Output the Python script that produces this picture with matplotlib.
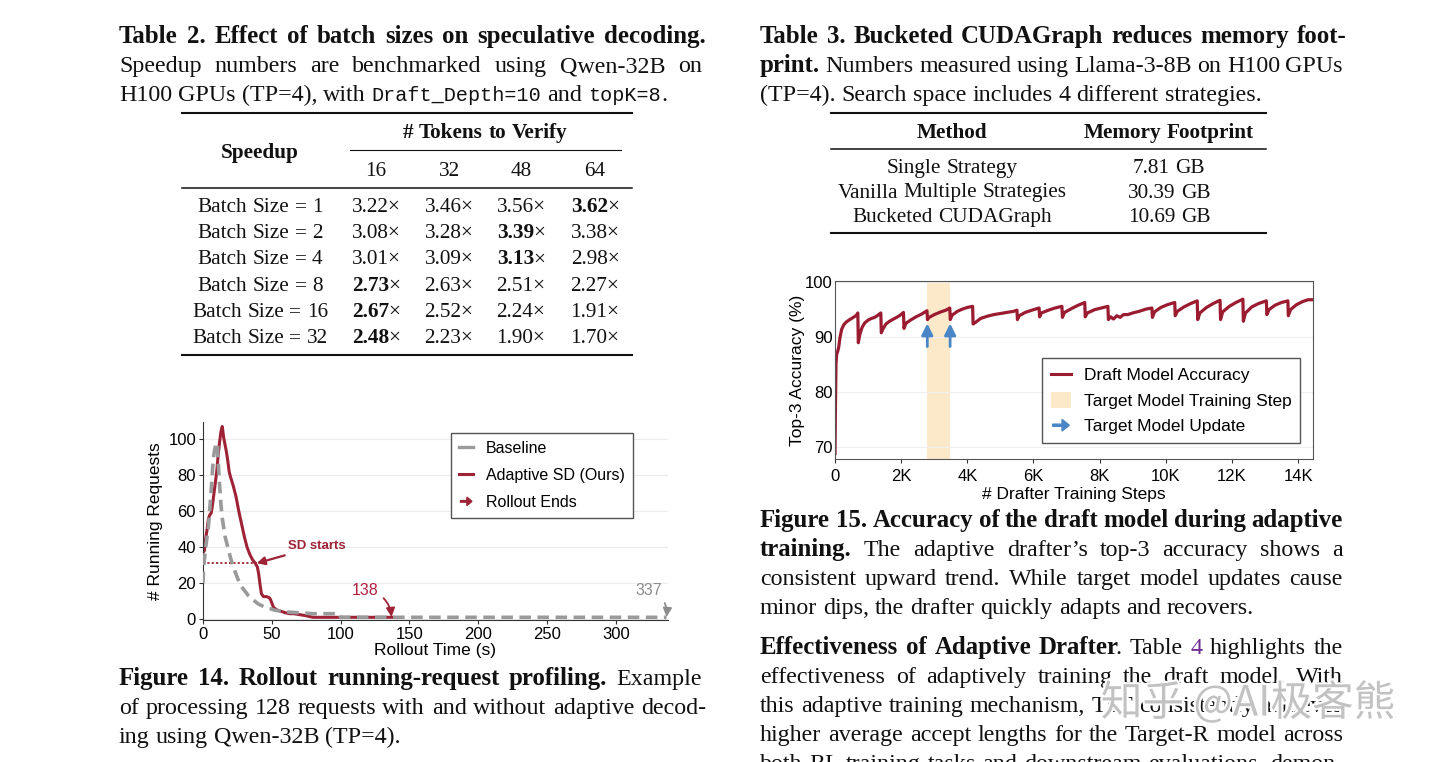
import matplotlib
matplotlib.use('Agg')
import matplotlib.pyplot as plt
import matplotlib.patheffects as pe
from matplotlib.patches import FancyArrow, Patch
from matplotlib.lines import Line2D
from matplotlib.legend_handler import HandlerPatch

W, H = 1440, 762

# ---- Table 2 data ----
batch_sizes = [1, 2, 4, 8, 16, 32]
tokens_to_verify = [16, 32, 48, 64]
speedups = [
    [3.22, 3.46, 3.56, 3.62],
    [3.08, 3.28, 3.39, 3.38],
    [3.01, 3.09, 3.13, 2.98],
    [2.73, 2.63, 2.51, 2.27],
    [2.67, 2.52, 2.24, 1.91],
    [2.48, 2.23, 1.90, 1.70],
]

# ---- Table 3 data ----
methods = ['Single Strategy', 'Vanilla Multiple Strategies', 'Bucketed CUDAGraph']
memory_gb = [7.81, 30.39, 10.69]

# ---- Figure 14 data (running requests over rollout time) ----
baseline_t = [0, 0.5, 1, 2, 3, 4, 5, 6, 7, 8, 9, 10, 10.5, 11, 12, 13, 14, 15, 16, 18, 20,
              22, 24, 26, 28, 30, 33, 36, 40, 44, 48, 52, 56, 60, 70, 80, 90, 99, 100, 337]
baseline_req = [20, 30, 33, 40, 46, 52, 62, 72, 84, 92, 96, 98, 97, 88, 75, 64, 56, 51, 46, 40, 34,
                29, 25, 21, 18, 16, 13, 11, 8.5, 7, 6, 5, 4.5, 4, 3.5, 3, 3, 3, 1, 1]
ours_t = [0, 1, 2, 3, 4, 5, 6, 7, 8, 9, 10, 11, 12, 13, 14, 15, 16, 17, 18, 19, 20, 22, 24, 26,
          28, 30, 32, 34, 36, 38, 39.5, 40.5, 41.5, 42.5, 44, 46, 48, 49, 50, 51, 52, 54, 56,
          58, 60, 63, 66, 70, 74, 77, 80, 100, 138]
ours_req = [37, 38, 45, 50, 56, 58, 59, 64, 70, 76, 82, 91, 98, 104, 107, 101, 97, 93, 88, 82, 79,
            74, 68, 60, 53, 46, 40, 36, 33, 31, 29, 25, 19, 14, 12.5, 12.5, 12, 11, 9, 7, 6, 5,
            4.5, 4, 3.5, 3, 3, 2.5, 2, 1.5, 1, 1, 1]
sd_start_t, sd_start_req = 39, 31
ours_end, baseline_end = 138, 337

# ---- Figure 15 data (drafter top-3 accuracy) ----
drafter_steps = [0, 15, 30, 50, 80, 110, 150, 200, 260, 330, 420, 500, 580, 650, 690,
                 705, 750, 820, 900, 1000, 1100, 1200, 1300, 1385,
                 1400, 1450, 1540, 1650, 1800, 1950, 2070,
                 2085, 2140, 2280, 2450, 2620, 2780,
                 2795, 2850, 3000, 3200, 3350, 3470,
                 3485, 3540, 3700, 3850, 4000, 4160,
                 4175, 4250, 4400, 4600, 4800, 5000, 5200, 5400, 5500,
                 5515, 5570, 5750, 5950, 6170,
                 6185, 6240, 6450, 6650, 6860,
                 6875, 6940, 7150, 7350, 7550,
                 7565, 7630, 7850, 8050, 8250,
                 8265, 8330, 8420, 8520, 8620, 8720, 8850, 9000, 9200, 9400, 9580,
                 9595, 9660, 9850, 10050, 10270,
                 10285, 10350, 10550, 10750, 10950,
                 10965, 11030, 11230, 11430, 11640,
                 11655, 11720, 11920, 12120, 12330,
                 12345, 12410, 12600, 12800, 13040,
                 13055, 13120, 13300, 13500, 13690,
                 13705, 13770, 13950, 14150, 14300, 14450]
drafter_acc = [68.8, 78, 85, 86.8, 87.3, 88.0, 89.8, 91.3, 92.1, 92.6, 93.0, 93.3, 93.6, 93.9, 94.3,
               88.9, 90.4, 91.7, 92.5, 93.0, 93.3, 93.5, 93.9, 94.3,
               90.7, 91.4, 92.3, 92.8, 93.3, 93.8, 94.4,
               91.5, 92.4, 93.0, 93.6, 94.1, 94.7,
               93.1, 93.5, 94.0, 94.5, 94.8, 95.2,
               93.1, 93.9, 94.6, 95.0, 95.3, 95.5,
               92.3, 92.6, 93.3, 93.7, 94.0, 94.2, 94.4, 94.6, 94.8,
               93.1, 93.8, 94.4, 94.8, 95.2,
               93.6, 94.3, 94.8, 95.2, 95.5,
               93.5, 94.4, 95.1, 95.7, 96.2,
               93.6, 94.3, 94.9, 95.2, 95.5,
               93.1, 93.6, 93.2, 93.8, 93.5, 94.0, 94.0, 94.3, 94.6, 95.0, 95.2,
               93.5, 94.5, 95.3, 95.8, 96.2,
               93.8, 94.6, 95.4, 96.0, 96.5,
               93.1, 94.3, 95.3, 96.0, 96.6,
               93.1, 94.5, 95.5, 96.2, 96.8,
               92.8, 94.3, 95.4, 96.0, 96.5,
               94.0, 94.9, 95.7, 96.2, 96.5,
               93.8, 94.9, 95.8, 96.4, 96.7, 96.7]
train_span = (2790, 3480)
update_steps = [2790, 3480]

# colors
RED = '#9e2336'
GRAY = '#9a9a9a'
BLUE = '#4a86c6'
PEACH = '#fce9c9'
INK = '#111111'

fig = plt.figure(figsize=(W / 100, H / 100), dpi=100)
fig.patch.set_facecolor('white')
renderer = fig.canvas.get_renderer()

SERIF = 'Liberation Serif'
SANS = 'Liberation Sans'
CAP = 17.3
TAB = 15.3
reg = dict(family=SERIF, size=CAP, color=INK)
bld = dict(reg, weight='bold', size=17.9)
mono = dict(family='Liberation Mono', size=14.5, color=INK)
purple = dict(reg, color='#6f2c91')
treg = dict(family=SERIF, size=TAB, color=INK)
tbld = dict(treg, weight='bold')


def width_of(s, st):
    t = fig.text(0, 0, s, **st)
    w = t.get_window_extent(renderer).width
    t.remove()
    return w


def space_of(st):
    return width_of('a a', st) - width_of('aa', st)


def split_words(runs):
    # 같은 스타일의 연속 run은 합치고, 공백 기준으로 단어 분리
    merged = []
    for s, st in runs:
        if merged and merged[-1][1] == st:
            merged[-1] = (merged[-1][0] + s, st)
        else:
            merged.append((s, st))
    words, new_word = [], True
    for s, st in merged:
        for i, part in enumerate(s.split(' ')):
            if i > 0:
                new_word = True
            if not part:
                continue
            if new_word:
                words.append([(part, st)])
            else:
                words[-1].append((part, st))
            new_word = False
    return words


def put_line(runs, x0, y, x1=None, align='left', pad=0.0):
    """한 줄의 텍스트를 픽셀 좌표(x0, 기준선 y)에 배치. align='justify'면 x1까지 양쪽 정렬."""
    words = split_words(runs)
    placed = []
    for w in words:
        items = []
        for s, st in w:
            t = fig.text(0, 0, s, va='baseline', ha='left', **st)
            items.append((t, t.get_window_extent(renderer).width))
        placed.append(items)
    widths = [sum(wd for _, wd in it) + pad * (len(it) - 1) for it in placed]
    if align == 'justify' and len(placed) > 1:
        gap = (x1 - x0 - sum(widths)) / (len(placed) - 1)
    else:
        gap = space_of(runs[0][1])
    total = sum(widths) + gap * (len(placed) - 1)
    x = x0 - total / 2 if align == 'center' else x0
    for it in placed:
        for t, wd in it:
            t.set_position((x / W, 1 - y / H))
            x += wd + pad
        x += gap - pad


def rule(x0, x1, y, lw):
    fig.add_artist(Line2D([x0 / W, x1 / W], [1 - y / H, 1 - y / H],
                          transform=fig.transFigure, color=INK, lw=lw))


# ---- Table 2 ----
put_line([('Table 2. Effect of batch sizes on speculative decoding.', bld)], 119, 43, 706, 'justify')
put_line([('Speedup numbers are benchmarked using Qwen-32B on', reg)], 119, 72, 702, 'justify')
put_line([('H100 GPUs (TP=4), with ', reg), ('Draft_Depth=10', mono), (' and ', reg),
          ('topK=8', mono), ('.', reg)], 119, 101)

rule(182, 632, 113, 1.5)
rule(350, 621, 150, 0.8)
rule(182, 632, 188, 1.1)
rule(182, 632, 355, 1.5)
col_x = [376, 449, 521, 595]
put_line([('# Tokens to Verify', tbld)], 485, 138, align='center')
put_line([('Speedup', tbld)], 260, 158, align='center')
for cx, tk in zip(col_x, tokens_to_verify):
    put_line([(str(tk), treg)], cx, 176, align='center')
for r, (bs, row) in enumerate(zip(batch_sizes, speedups)):
    y = 212 + r * 26.2
    put_line([(f'Batch Size = {bs}', treg)], 260, y, align='center')
    best = max(row)
    for cx, v in zip(col_x, row):
        st = tbld if v == best else treg
        put_line([(f'{v:.2f}', st), ('×', treg)], cx, y, align='center', pad=-1)

# ---- Table 3 ----
put_line([('Table 3. Bucketed CUDAGraph reduces memory foot-', bld)], 760, 43, 1347, 'justify')
put_line([('print.', bld), (' Numbers measured using Llama-3-8B on H100 GPUs', reg)], 760, 72, 1343, 'justify')
put_line([('(TP=4). Search space includes 4 different strategies.', reg)], 760, 101)
rule(831, 1266, 113, 1.5)
rule(831, 1266, 149, 1.1)
rule(831, 1266, 233, 1.5)
put_line([('Method', tbld)], 952, 138, align='center')
put_line([('Memory Footprint', tbld)], 1169, 138, align='center')
for i, (m, g) in enumerate(zip(methods, memory_gb)):
    y = 173 + i * 24.5
    put_line([(m, treg)], 952, y, align='center')
    put_line([(f'{g:.2f} GB', treg)], 1169, y, align='center')

# ---- Figure 14 ----
ax1 = fig.add_axes([203 / W, 1 - 620 / H, 465 / W, 198 / H])
ax1.plot(baseline_t, baseline_req, color=GRAY, lw=2.6, ls=(0, (3.2, 1.8)), label='Baseline', zorder=3)
ax1.plot(ours_t, ours_req, color=RED, lw=2.2, label='Adaptive SD (Ours)', zorder=2)
ax1.hlines(sd_start_req, 0, sd_start_t, colors=RED, linestyles=(0, (1.2, 1.2)), lw=1.3)
ax1.annotate('SD starts', xy=(sd_start_t, sd_start_req), xytext=(62, 40.5), color=RED,
             fontweight='bold', fontsize=9.5, family=SANS, va='center', ha='left',
             arrowprops=dict(arrowstyle='-|>', color=RED, lw=1.6, shrinkA=1, shrinkB=0,
                             mutation_scale=12))
ax1.annotate(str(ours_end), xy=(ours_end - 1, 1.2), xytext=(118, 16), color='#b3203f',
             fontsize=11.5, family=SANS, ha='center', va='center',
             arrowprops=dict(arrowstyle='-|>', color=RED, lw=1.3, shrinkA=2, shrinkB=0,
                             mutation_scale=13, connectionstyle='arc3,rad=-0.4'))
ax1.annotate(str(baseline_end), xy=(baseline_end, 1.2), xytext=(324, 16), color='#8c8c8c',
             fontsize=11.5, family=SANS, ha='center', va='center',
             arrowprops=dict(arrowstyle='-|>', color='#8c8c8c', lw=1.3, shrinkA=2, shrinkB=0,
                             mutation_scale=13, connectionstyle='arc3,rad=-0.4'))
ax1.set_xlim(0, 338)
ax1.set_ylim(-0.5, 109.5)
ax1.set_xticks(range(0, 301, 50))
ax1.set_yticks(range(0, 101, 20))
ax1.grid(axis='y', color='#ececec', lw=0.8)
ax1.set_axisbelow(True)
for s in ['top', 'right']:
    ax1.spines[s].set_visible(False)
for s in ['left', 'bottom']:
    ax1.spines[s].set_color('#333333')
ax1.tick_params(labelsize=12, length=3, color='#333333', pad=2)
for lab in ax1.get_xticklabels() + ax1.get_yticklabels():
    lab.set_family(SANS)
ax1.set_xlabel('Rollout Time (s)', fontsize=12.5, family=SANS, labelpad=1)
ax1.set_ylabel('# Running Requests', fontsize=12.5, family=SANS, labelpad=4)


def arrow_patch(legend, orig_handle, xdescent, ydescent, width, height, fontsize):
    return FancyArrow(-xdescent + 0.1 * width, -ydescent + height / 2, 0.8 * width, 0,
                      width=0.14 * height, head_width=0.75 * height, head_length=0.35 * width,
                      length_includes_head=True)


arrow_ends = FancyArrow(0, 0, 1, 0, color=RED)
h1 = [Line2D([], [], color=GRAY, lw=2.4), Line2D([], [], color=RED, lw=2.2), arrow_ends]
leg1 = ax1.legend(h1, ['Baseline', 'Adaptive SD (Ours)', 'Rollout Ends'],
                  handler_map={FancyArrow: HandlerPatch(patch_func=arrow_patch)},
                  loc='upper right', bbox_to_anchor=(633 / W, 1 - 433 / H),
                  bbox_transform=fig.transFigure, borderaxespad=0, fancybox=False,
                  edgecolor='#555555', framealpha=1, handlelength=0.9, handletextpad=0.8,
                  labelspacing=0.75, prop=dict(family=SANS, size=11.5), borderpad=0.5)
leg1.get_frame().set_linewidth(1.0)

# ---- Figure 15 ----
ax2 = fig.add_axes([835 / W, 1 - 459 / H, 478 / W, 178 / H])
ax2.axvspan(train_span[0], train_span[1], color=PEACH, lw=0, zorder=0)
ax2.plot(drafter_steps, drafter_acc, color='#9b1c31', lw=2.3, zorder=2)
for s in update_steps:
    ax2.annotate('', xy=(s, 92.4), xytext=(s, 88.2),
                 arrowprops=dict(arrowstyle='-|>', color=BLUE, lw=2, shrinkA=0, shrinkB=0,
                                 mutation_scale=17))
ax2.set_xlim(0, 14450)
ax2.set_ylim(67.8, 100.1)
ax2.set_xticks(range(0, 14001, 2000))
ax2.set_xticklabels(['0'] + [f'{k}K' for k in range(2, 15, 2)])
ax2.set_yticks([70, 80, 90, 100])
ax2.grid(axis='y', color='#efefef', lw=0.8)
ax2.set_axisbelow(True)
for s in ax2.spines.values():
    s.set_color('#555555')
ax2.tick_params(axis='x', labelsize=12, length=3, color='#333333', pad=4)
ax2.tick_params(axis='y', labelsize=12, length=0, pad=1.5)
for lab in ax2.get_xticklabels() + ax2.get_yticklabels():
    lab.set_family(SANS)
ax2.set_xlabel('# Drafter Training Steps', fontsize=12.5, family=SANS, labelpad=2)
ax2.set_ylabel('Top-3 Accuracy (%)', fontsize=12.5, family=SANS, labelpad=0)

arrow_upd = FancyArrow(0, 0, 1, 0, color=BLUE)
h2 = [Line2D([], [], color='#9b1c31', lw=2.2), Patch(facecolor=PEACH, edgecolor='none'), arrow_upd]
leg2 = ax2.legend(h2, ['Draft Model Accuracy', 'Target Model Training Step', 'Target Model Update'],
                  handler_map={FancyArrow: HandlerPatch(patch_func=arrow_patch)},
                  loc='upper right', bbox_to_anchor=(1300 / W, 1 - 358 / H),
                  bbox_transform=fig.transFigure, borderaxespad=0, fancybox=False,
                  edgecolor='#555555', framealpha=1, handlelength=1.2, handleheight=1.0,
                  handletextpad=0.7, labelspacing=0.5, prop=dict(family=SANS, size=12.5),
                  borderpad=0.5)
leg2.get_frame().set_linewidth(1.0)

# ---- captions ----
put_line([('Figure 14. Rollout running-request profiling.', bld), (' Example', reg)], 119, 685, 702, 'justify')
put_line([('of processing 128 requests with and without adaptive decod-', reg)], 119, 714, 706, 'justify')
put_line([('ing using Qwen-32B (TP=4).', reg)], 119, 743)

put_line([('Figure 15. Accuracy of the draft model during adaptive', bld)], 760, 527, 1343, 'justify')
put_line([('training.', bld), (' The adaptive drafter’s top-3 accuracy shows a', reg)], 760, 556, 1343, 'justify')
put_line([('consistent upward trend. While target model updates cause', reg)], 760, 585, 1343, 'justify')
put_line([('minor dips, the drafter quickly adapts and recovers.', reg)], 760, 614)

put_line([('Effectiveness of Adaptive Drafter', bld), ('. Table ', reg), ('4', purple),
          (' highlights the', reg)], 760, 654, 1343, 'justify', pad=-3)
put_line([('effectiveness of adaptively training the draft model. With', reg)], 760, 683, 1343, 'justify')
put_line([('this adaptive training mechanism, TLT consistently achieves', reg)], 760, 712, 1343, 'justify')
put_line([('higher average accept lengths for the Target-R model across', reg)], 760, 741, 1343, 'justify')
put_line([('both RL training tasks and downstream evaluations, demon-', reg)], 760, 770, 1343, 'justify')

# watermark
fig.text(1248 / W, 1 - 703 / H, '知乎 @AI极客熊', family=['Noto Sans CJK SC', 'DejaVu Sans'],
         size=30, color='#c2c2c2', ha='center', va='center',
         path_effects=[pe.withStroke(linewidth=3, foreground='white')])

fig.savefig('out.png', dpi=100)
